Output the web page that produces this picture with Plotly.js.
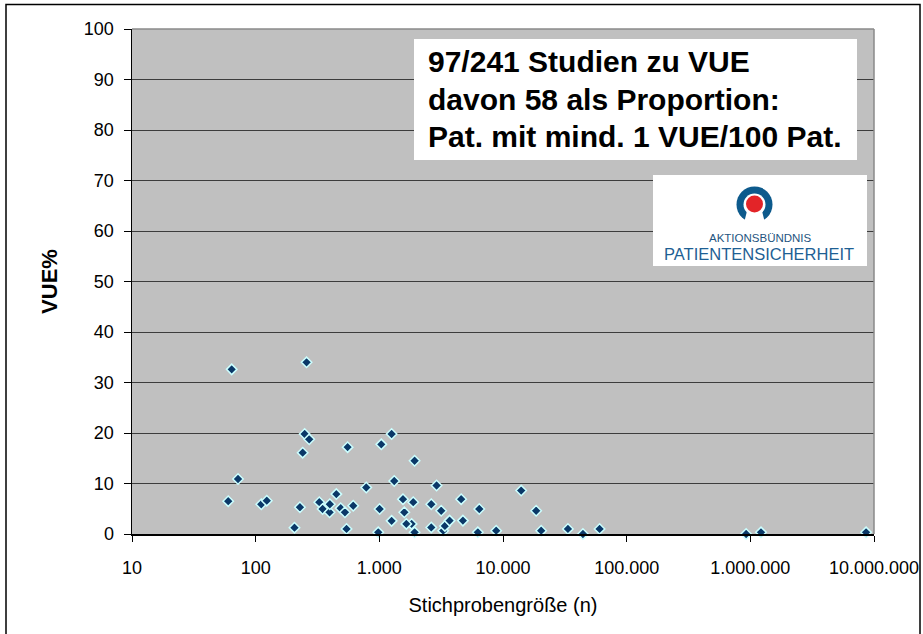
<!DOCTYPE html>
<html>
<head>
<meta charset="utf-8">
<script src="https://cdn.plot.ly/plotly-3.0.1.min.js"></script>
<style>html,body{margin:0;padding:0;background:#fff;}#chart{width:923px;height:634px;}</style>
</head>
<body>
<div id="chart"></div>
<script>
// Sample size (n) of each study and share of patients with at least one VUE (%)
const sampleSize = [60, 64, 72, 111, 123, 206, 228, 240, 249, 258, 271, 327, 348, 396, 398, 449, 487, 527, 543, 554, 615, 784, 980, 1005, 1037, 1257, 1257, 1320, 1553, 1592, 1825, 1653, 1880, 1928, 1928, 2630, 2630, 2904, 3165, 3285, 3390, 3700, 4590, 4740, 6260, 6430, 8810, 14030, 18540, 20360, 33500, 44300, 60400, 925000, 1220000, 8630000];
const vuePercent = [6.5, 32.6, 10.9, 5.9, 6.6, 1.25, 5.3, 16.1, 19.8, 34.0, 18.75, 6.3, 4.95, 4.3, 5.9, 7.9, 5.1, 4.3, 1.0, 17.2, 5.6, 9.2, 0.33, 4.95, 17.75, 19.8, 2.6, 10.5, 6.9, 4.3, 2.0, 2.0, 6.3, 14.5, 0.33, 5.9, 1.3, 9.6, 4.6, 0.66, 1.6, 2.65, 6.9, 2.65, 0.33, 4.95, 0.66, 8.6, 4.6, 0.66, 1.0, 0.0, 1.0, 0.0, 0.33, 0.33];

const xTickVals = [10, 100, 1000, 10000, 100000, 1000000, 10000000];
const xTickText = ["10", "100", "1.000", "10.000", "100.000", "1.000.000", "10.000.000"];
const yTickVals = [0, 10, 20, 30, 40, 50, 60, 70, 80, 90, 100];

const infoLines = ["97/241 Studien zu VUE", "davon 58 als Proportion:", "Pat. mit mind. 1 VUE/100 Pat."];
const logoSmall = "AKTIONSBÜNDNIS";
const logoBig = "PATIENTENSICHERHEIT";

const arial = "Liberation Sans, Arial, sans-serif";

// plot area in pixels: x 132..874, y 29..534
const L = 132, R = 874, T = 29, B = 534;
const px = x => (x - L) / (R - L);
const py = y => (B - y) / (B - T);

const trace = {
  type: "scatter", mode: "markers",
  x: sampleSize, y: vuePercent,
  cliponaxis: false,
  marker: {symbol: "diamond", size: 8, color: "#0a3868", line: {color: "#ccffff", width: 1.5}},
  hoverinfo: "x+y"
};

const shapes = [
  // outer frame (left, top, right)
  {type: "rect", xref: "paper", yref: "paper", x0: px(6), x1: px(920), y0: py(660), y1: py(4.5), line: {color: "#000", width: 1.5}, fillcolor: "rgba(0,0,0,0)", layer: "above"},
  // plot area border top/right
  {type: "line", xref: "paper", yref: "paper", x0: 0, x1: 1, y0: 1, y1: 1, line: {color: "#8a8a8a", width: 1.5}},
  {type: "line", xref: "paper", yref: "paper", x0: 1, x1: 1, y0: 0, y1: 1, line: {color: "#8a8a8a", width: 1.5}},
  // info box
  {type: "rect", xref: "paper", yref: "paper", x0: px(414), x1: px(857), y0: py(160), y1: py(39), fillcolor: "#ffffff", line: {width: 0}, layer: "above"},
  // logo box
  {type: "rect", xref: "paper", yref: "paper", x0: px(653), x1: px(867), y0: py(266), y1: py(175), fillcolor: "#ffffff", line: {width: 0}, layer: "above"},
  // logo symbol
  {type: "circle", xref: "paper", yref: "paper", x0: px(736.5), x1: px(772.5), y0: py(222.5), y1: py(186.5), fillcolor: "#0d5a8c", line: {width: 0}, layer: "above"},
  {type: "circle", xref: "paper", yref: "paper", x0: px(743.5), x1: px(765.5), y0: py(215.5), y1: py(193.5), fillcolor: "#ffffff", line: {width: 0}, layer: "above"},
  {type: "path", xref: "paper", yref: "paper", path: `M ${px(748)} ${py(207)} L ${px(761)} ${py(207)} L ${px(765)} ${py(223)} L ${px(744)} ${py(223)} Z`, fillcolor: "#ffffff", line: {width: 0}, layer: "above"},
  {type: "circle", xref: "paper", yref: "paper", x0: px(746), x1: px(763), y0: py(212.5), y1: py(195.5), fillcolor: "#e32428", line: {width: 0}, layer: "above"}
];

const annotations = [];
const lineCenters = [62, 99, 136];
infoLines.forEach((t, i) => annotations.push({
  xref: "paper", yref: "paper", x: px(426), y: py(lineCenters[i]), xanchor: "left", yanchor: "middle",
  text: t, showarrow: false, font: {family: arial, size: 30, color: "#000", weight: "bold"}
}));
annotations.push({xref: "paper", yref: "paper", x: px(760), y: py(238), xanchor: "center", yanchor: "middle",
  text: logoSmall, showarrow: false, font: {family: arial, size: 11.5, color: "#1f5580"}});
annotations.push({xref: "paper", yref: "paper", x: px(759), y: py(254), xanchor: "center", yanchor: "middle",
  text: logoBig, showarrow: false, font: {family: arial, size: 16.5, color: "#1e5f94"}});

const layout = {
  width: 923, height: 634,
  margin: {l: L, r: 923 - R, t: T, b: 634 - B, pad: 0},
  paper_bgcolor: "#ffffff", plot_bgcolor: "#c0c0c0",
  showlegend: false,
  xaxis: {
    type: "log", range: [0.99999, 7.00001],
    tickvals: xTickVals, ticktext: xTickText,
    ticks: "outside", ticklen: 6, tickcolor: "#000", tickwidth: 1,
    showline: true, linecolor: "#000", linewidth: 1.5,
    showgrid: false, zeroline: false,
    ticklabelstandoff: 11,
    tickfont: {family: arial, size: 18, color: "#000"},
    title: {text: "Stichprobengröße (n)", font: {family: arial, size: 20, color: "#000"}, standoff: 21}
  },
  yaxis: {
    range: [0, 100], tickvals: yTickVals,
    ticks: "outside", ticklen: 7, tickcolor: "#000", tickwidth: 1,
    showline: true, linecolor: "#000", linewidth: 1.5,
    showgrid: true, gridcolor: "#3c3c3c", gridwidth: 1, zeroline: false,
    ticklabelstandoff: 6,
    tickfont: {family: arial, size: 18, color: "#000"},
    title: {text: "VUE%", font: {family: arial, size: 22, color: "#000", weight: "bold"}, standoff: 20}
  },
  shapes: shapes,
  annotations: annotations
};

Plotly.newPlot("chart", [trace], layout, {displayModeBar: false, staticPlot: true});
</script>
</body>
</html>
